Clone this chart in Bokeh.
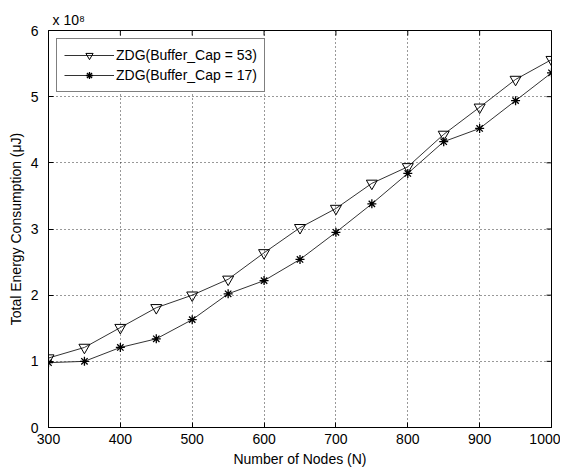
import math
from bokeh.plotting import figure
from bokeh.models import FixedTicker, Range1d, Legend, LegendItem
from bokeh.embed import file_html
from bokeh.resources import INLINE

nodes = [300, 350, 400, 450, 500, 550, 600, 650, 700, 750, 800, 850, 900, 950, 1000]
cap53 = [1.05, 1.21, 1.51, 1.81, 2.00, 2.24, 2.64, 3.02, 3.31, 3.69, 3.94, 4.43, 4.84, 5.26, 5.56]
cap17 = [0.98, 1.00, 1.21, 1.34, 1.63, 2.02, 2.22, 2.54, 2.95, 3.38, 3.84, 4.32, 4.52, 4.94, 5.36]
x_ticks = [300, 400, 500, 600, 700, 800, 900, 1000]
y_ticks = [0, 1, 2, 3, 4, 5, 6]
series_names = ["ZDG(Buffer_Cap = 53)", "ZDG(Buffer_Cap = 17)"]
exponent_text = "x 10\u2078"

FONT = "Liberation Sans"
FS = "14px"

p = figure(width=560, height=470, output_backend="svg", toolbar_location=None,
           x_range=Range1d(x_ticks[0], x_ticks[-1]), y_range=Range1d(y_ticks[0], y_ticks[-1]),
           min_border_left=48, min_border_right=9, min_border_top=30, min_border_bottom=43,
           background_fill_color="white", border_fill_color="white")
p.outline_line_color = "black"
p.outline_line_width = 1

# exponent shown as a left-aligned title above the frame
p.title.text = exponent_text
p.title.align = "left"
p.title.offset = 4
p.title.standoff = 6
p.title.text_font = FONT
p.title.text_font_size = FS
p.title.text_font_style = "normal"
p.title.text_color = "black"

def style_axis(ax):
    ax.axis_line_color = "black"
    ax.major_tick_in = 5
    ax.major_tick_out = 0
    ax.minor_tick_in = 0
    ax.minor_tick_out = 0
    ax.major_tick_line_color = "black"
    ax.major_label_text_font = FONT
    ax.major_label_text_font_size = FS
    ax.major_label_text_color = "black"
    ax.axis_label_text_font = FONT
    ax.axis_label_text_font_size = FS
    ax.axis_label_text_font_style = "normal"
    ax.axis_label_text_color = "black"

p.xaxis.ticker = FixedTicker(ticks=x_ticks)
p.yaxis.ticker = FixedTicker(ticks=y_ticks)
style_axis(p.xaxis[0])
style_axis(p.yaxis[0])
p.xaxis.axis_label = "Number of Nodes (N)"
p.yaxis.axis_label = "Total Energy Consumption (\u03bcJ)"
p.xaxis.major_label_standoff = 6
p.xaxis.axis_label_standoff = 4
p.yaxis.major_label_standoff = 10
p.yaxis.axis_label_standoff = 4

# inward ticks on the top and right edges of the box
p.ray(x=x_ticks, y=[y_ticks[-1]] * len(x_ticks), length=5, length_units="screen",
      angle=-math.pi / 2, line_color="black", line_width=1)
p.ray(x=[x_ticks[-1]] * len(y_ticks), y=y_ticks, length=5, length_units="screen",
      angle=math.pi, line_color="black", line_width=1)

p.xgrid.ticker = FixedTicker(ticks=x_ticks)
p.ygrid.ticker = FixedTicker(ticks=y_ticks)
for g in (p.xgrid, p.ygrid):
    g.grid_line_color = "black"
    g.grid_line_dash = "1 3"
    g.grid_line_alpha = 0.8
    g.grid_line_width = 1

line_color = "#333333"
l1 = p.line(nodes, cap53, line_color=line_color, line_width=1)
m1 = p.scatter(nodes, cap53, marker="inverted_triangle", size=11,
               line_color="black", fill_alpha=0, line_width=1)
l2 = p.line(nodes, cap17, line_color=line_color, line_width=1)
m2 = p.scatter(nodes, cap17, marker="asterisk", size=9,
               line_color="black", line_width=1.3)

legend = Legend(items=[LegendItem(label=series_names[0], renderers=[l1, m1]),
                       LegendItem(label=series_names[1], renderers=[l2, m2])],
                location="top_left")
legend.border_line_color = "black"
legend.border_line_width = 1
legend.background_fill_color = "white"
legend.background_fill_alpha = 1
legend.label_text_font = FONT
legend.label_text_font_size = FS
legend.label_text_color = "black"
legend.glyph_width = 50
legend.glyph_height = 18
legend.label_height = 18
legend.spacing = 2
legend.padding = 7
legend.margin = 8
legend.label_standoff = 2
p.add_layout(legend, "center")

open("out.html", "w").write(file_html(p, INLINE))
